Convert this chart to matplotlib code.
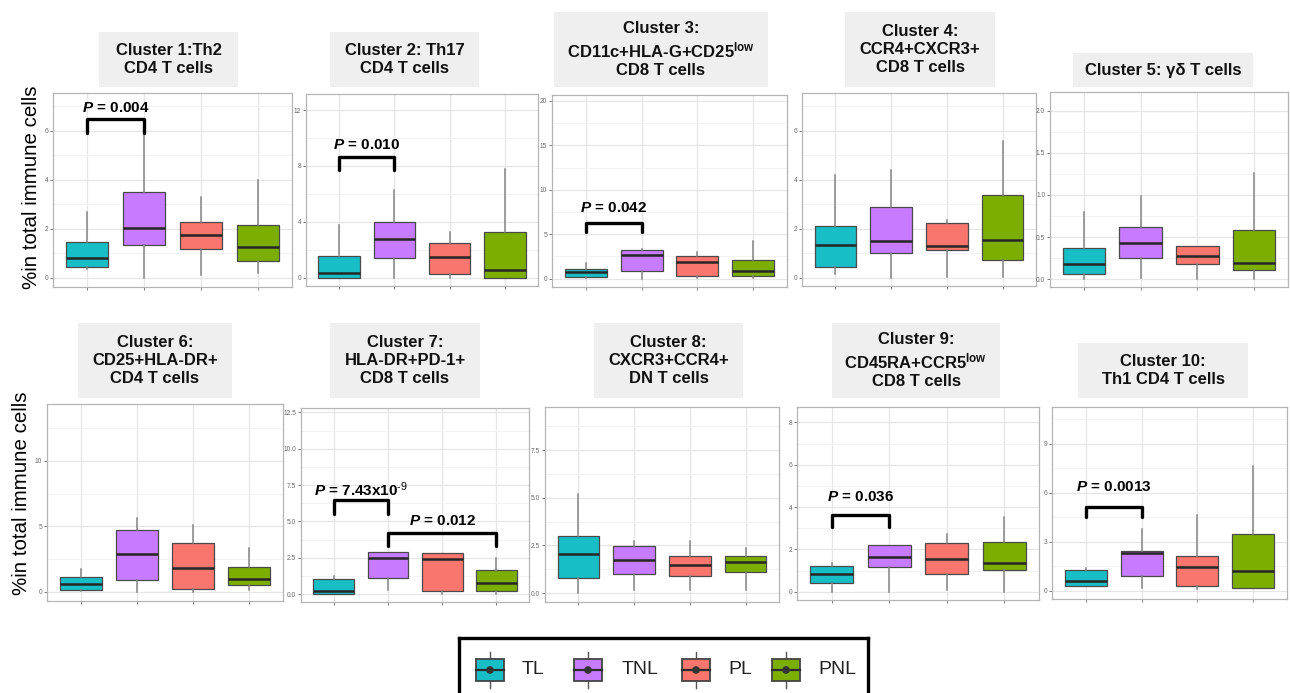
import matplotlib
matplotlib.use("Agg")
import matplotlib.pyplot as plt
from matplotlib.patches import Rectangle, Circle

plt.rcParams['font.family'] = ['Liberation Sans', 'DejaVu Sans']
plt.rcParams['mathtext.fontset'] = 'custom'
plt.rcParams['mathtext.rm'] = 'Liberation Sans'
plt.rcParams['mathtext.it'] = 'Liberation Sans:italic'
plt.rcParams['mathtext.bf'] = 'Liberation Sans:bold'
plt.rcParams['mathtext.bfit'] = 'Liberation Sans:bold:italic'

# ---------------------------------------------------------------- data
groups = ["TL", "TNL", "PL", "PNL"]
colors = ["#17BEC5", "#C77CFF", "#F8766D", "#7CAE00"]

titles = [
    "Cluster 1:Th2\nCD4 T cells",
    "Cluster 2: Th17\nCD4 T cells",
    "Cluster 3:\nCD11c+HLA-G+CD25$^{\\mathdefault{low}}$\nCD8 T cells",
    "Cluster 4:\nCCR4+CXCR3+\nCD8 T cells",
    "Cluster 5: \u03b3\u03b4 T cells",
    "Cluster 6:\nCD25+HLA-DR+\nCD4 T cells",
    "Cluster 7:\nHLA-DR+PD-1+\nCD8 T cells",
    "Cluster 8:\nCXCR3+CCR4+\nDN T cells",
    "Cluster 9:\nCD45RA+CCR5$^{\\mathdefault{low}}$\nCD8 T cells",
    "Cluster 10:\nTh1 CD4 T cells",
]

# box-plot summaries, one row per cluster, columns in the order of `groups`
whislo = [
    [0.35, 0.00, 0.11, 0.22],
    [0.00, 0.00, 0.00, 0.00],
    [0.07, 0.00, 0.07, 0.07],
    [0.15, 0.00, 0.04, 0.04],
    [0.00, 0.02, 0.01, 0.01],
    [0.05, 0.00, 0.00, 0.18],
    [0.00, 0.25, 0.02, 0.02],
    [0.00, 0.14, 0.14, 0.14],
    [0.00, 0.00, 0.08, 0.00],
    [0.26, 0.16, 0.10, 0.14],
]
q1 = [
    [0.45, 1.36, 1.20, 0.69],
    [0.00, 1.44, 0.29, 0.00],
    [0.19, 0.82, 0.34, 0.26],
    [0.42, 1.02, 1.13, 0.74],
    [0.06, 0.25, 0.18, 0.11],
    [0.18, 0.94, 0.23, 0.51],
    [0.00, 1.10, 0.21, 0.21],
    [0.81, 0.98, 0.91, 1.10],
    [0.42, 1.18, 0.82, 1.02],
    [0.26, 0.91, 0.30, 0.14],
]
medians = [
    [0.83, 2.04, 1.77, 1.27],
    [0.31, 2.78, 1.51, 0.57],
    [0.71, 2.62, 1.87, 0.82],
    [1.33, 1.50, 1.28, 1.54],
    [0.18, 0.43, 0.28, 0.20],
    [0.61, 2.88, 1.79, 1.00],
    [0.18, 2.50, 2.41, 0.78],
    [2.05, 1.75, 1.49, 1.61],
    [0.83, 1.65, 1.57, 1.37],
    [0.57, 2.28, 1.44, 1.22],
]
q3 = [
    [1.46, 3.51, 2.27, 2.18],
    [1.53, 3.97, 2.49, 3.30],
    [1.09, 3.26, 2.58, 2.13],
    [2.10, 2.90, 2.24, 3.36],
    [0.37, 0.62, 0.39, 0.59],
    [1.12, 4.72, 3.70, 1.89],
    [1.03, 2.91, 2.82, 1.67],
    [2.99, 2.49, 1.96, 1.96],
    [1.24, 2.20, 2.28, 2.36],
    [1.28, 2.44, 2.13, 3.48],
]
whishi = [
    [2.68, 6.31, 3.29, 4.01],
    [3.76, 6.29, 3.25, 7.78],
    [1.76, 3.30, 3.00, 4.19],
    [4.18, 4.40, 2.36, 5.60],
    [0.80, 0.99, 0.39, 1.26],
    [1.76, 5.61, 5.10, 3.34],
    [1.24, 2.91, 2.82, 2.48],
    [5.22, 2.71, 2.71, 2.35],
    [1.34, 2.20, 2.72, 3.54],
    [1.36, 3.78, 4.63, 7.64],
]

y_limits = [
    (-0.37, 7.55), (-0.60, 13.15), (-0.94, 20.67), (-0.34, 7.55), (-0.09, 2.22),
    (-0.69, 14.34), (-0.55, 12.80), (-0.47, 9.77), (-0.39, 8.73), (-0.51, 11.24),
]
y_ticks = [
    [0, 2, 4, 6], [0, 4, 8, 12], [0, 5, 10, 15, 20], [0, 2, 4, 6],
    [0.0, 0.5, 1.0, 1.5, 2.0],
    [0, 5, 10], [0.0, 2.5, 5.0, 7.5, 10.0, 12.5], [0.0, 2.5, 5.0, 7.5],
    [0, 2, 4, 6, 8], [0, 3, 6, 9],
]
y_tick_labels = [
    ["0", "2", "4", "6"], ["0", "4", "8", "12"], ["0", "5", "10", "15", "20"],
    ["0", "2", "4", "6"], ["0.0", "0.5", "1.0", "1.5", "2.0"],
    ["0", "5", "10"], ["0.0", "2.5", "5.0", "7.5", "10.0", "12.5"],
    ["0.0", "2.5", "5.0", "7.5"], ["0", "2", "4", "6", "8"], ["0", "3", "6", "9"],
]

# significance brackets: (cluster index, group a, group b, p label, bar y, leg y, label y)
comparisons = [
    (0, 1, 2, "0.004", 6.49, 5.93, 6.95),
    (1, 1, 2, "0.010", 8.64, 7.73, 9.52),
    (2, 1, 2, "0.042", 6.25, 5.24, 7.90),
    (6, 1, 2, "7.43x10$^{\\text{-9}}$", 6.44, 5.53, 7.18),
    (6, 2, 4, "0.012", 4.20, 3.28, 5.02),
    (8, 1, 2, "0.036", 3.65, 3.07, 4.48),
    (9, 1, 2, "0.0013", 5.14, 4.53, 6.36),
]

# ---------------------------------------------------------------- layout (pixels)
W, H = 1290, 693
panel_px = [
    (53, 93, 292, 287), (306, 94, 538, 286), (552, 95, 787, 287),
    (802, 93, 1036, 286), (1050, 92, 1288, 287),
    (47, 404, 283, 601), (301, 408, 529, 602), (545, 407, 779, 602),
    (797, 407, 1039, 600), (1052, 407, 1287, 599),
]
title_px = [
    (99, 32, 238, 87), (330, 32, 479, 87), (554, 12, 768, 87),
    (845, 12, 995, 87), (1073, 53, 1253, 87),
    (78, 323, 232, 398), (330, 323, 480, 398), (594, 323, 743, 398),
    (832, 323, 1000, 398), (1078, 343, 1248, 398),
]

fig = plt.figure(figsize=(W / 100, H / 100), dpi=100)
fig.patch.set_facecolor("white")


def fig_rect(l, t, r, b):
    return [l / W, 1 - b / H, (r - l) / W, (b - t) / H]


axes = []
for i in range(10):
    ax = fig.add_axes(fig_rect(*panel_px[i]))
    axes.append(ax)
    stats = [
        dict(whislo=whislo[i][g], q1=q1[i][g], med=medians[i][g],
             q3=q3[i][g], whishi=whishi[i][g], label=groups[g])
        for g in range(4)
    ]
    bp = ax.bxp(stats, positions=[1, 2, 3, 4], widths=0.75, patch_artist=True,
                showfliers=False, showcaps=False,
                boxprops=dict(edgecolor="#4a4a4a", linewidth=0.9),
                medianprops=dict(color="#262626", linewidth=1.8),
                whiskerprops=dict(color="#858585", linewidth=1.1),
                zorder=3)
    for patch, c in zip(bp["boxes"], colors):
        patch.set_facecolor(c)

    lo, hi = y_limits[i]
    ax.set_xlim(0.4, 4.6)
    ax.set_ylim(lo, hi)
    ticks = y_ticks[i]
    ax.set_yticks(ticks)
    ax.set_yticklabels(y_tick_labels[i])
    step = ticks[1] - ticks[0]
    minor = [t + step / 2 for t in ticks] + [ticks[0] - step / 2]
    ax.set_yticks([m for m in minor if lo < m < hi], minor=True)
    ax.set_xticks([1, 2, 3, 4])
    ax.set_xticklabels([])
    ax.grid(True, which="major", color="#e6e6e6", linewidth=0.9, zorder=0)
    ax.grid(True, which="minor", axis="y", color="#f3f3f3", linewidth=0.7, zorder=0)
    ax.set_axisbelow(True)
    ax.tick_params(axis="both", which="major", length=2.2, width=0.6,
                   color="#666666", labelsize=4.8, labelcolor="#6a6a6a", pad=1.2)
    ax.tick_params(axis="y", which="minor", length=0)
    for s in ax.spines.values():
        s.set_color("#b5b5b5")
        s.set_linewidth(0.9)

    # title strip
    l, t, r, b = title_px[i]
    fig.patches.append(Rectangle((l / W, 1 - b / H), (r - l) / W, (b - t) / H,
                                 transform=fig.transFigure, facecolor="#efefef",
                                 edgecolor="none", zorder=0))
    fig.text((l + r) / 2 / W, 1 - (t + b) / 2 / H, titles[i], ha="center",
             va="center", fontsize=12, fontweight="bold", linespacing=1.25,
             color="#111111")

# significance brackets
for ci, a, b, label, bar_y, leg_y, text_y in comparisons:
    ax = axes[ci]
    ax.plot([a, a, b, b], [leg_y, bar_y, bar_y, leg_y], color="black",
            linewidth=2.4, solid_joinstyle="round", solid_capstyle="round",
            zorder=5, clip_on=False)
    ax.text((a + b) / 2, text_y, "$\\mathbfit{P}$ = " + label, ha="center",
            va="center", fontsize=11, fontweight="bold", color="black", zorder=6)

# shared y-axis titles
fig.text(32 / W, 1 - 187 / H, "%in total immune cells", rotation=90,
         ha="center", va="center", fontsize=14.8, color="black")
fig.text(22 / W, 1 - 493 / H, "%in total immune cells", rotation=90,
         ha="center", va="center", fontsize=14.8, color="black")

# legend
lax = fig.add_axes(fig_rect(459, 638, 868, 704))
lax.set_xlim(459, 868)
lax.set_ylim(704, 638)
lax.set_xticks([])
lax.set_yticks([])
for s in lax.spines.values():
    s.set_color("black")
    s.set_linewidth(2.4)
icon_x = [490, 588, 696, 786]
label_x = [522, 622, 728, 818]
for g in range(4):
    cx = icon_x[g]
    lax.plot([cx, cx], [652, 688], color="#555555", linewidth=1.0, zorder=1)
    lax.add_patch(Rectangle((cx - 14, 659), 28, 22, facecolor=colors[g],
                            edgecolor="#444444", linewidth=1.3, zorder=2))
    lax.plot([cx - 14, cx + 14], [670, 670], color="#2b2b2b", linewidth=1.6, zorder=3)
    lax.add_patch(Circle((cx, 670), 3.8, facecolor="#333333", edgecolor="none", zorder=4))
    lax.text(label_x[g], 670, groups[g], ha="left", va="center", fontsize=14,
             color="#222222")

fig.savefig("out.png", dpi=100)
